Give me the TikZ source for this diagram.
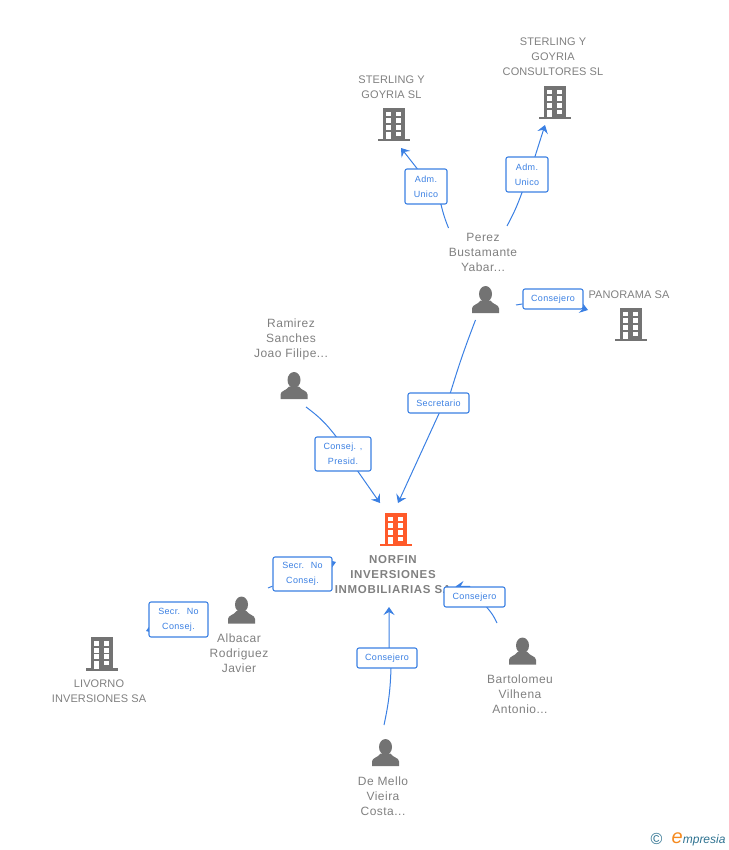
\documentclass[tikz,border=0pt]{standalone}
\usepackage{fontspec}
\setmainfont{Liberation Sans}
\newfontfamily\capsfont[LetterSpace=1]{Liberation Sans}
\newfontfamily\persfont[LetterSpace=4]{Liberation Sans}
\newfontfamily\rolefont[LetterSpace=4]{Liberation Sans}
\newfontfamily\headfont[LetterSpace=6]{Liberation Sans}
\usetikzlibrary{arrows.meta,backgrounds}

\definecolor{linkblue}{HTML}{3B80E3}
\definecolor{namegray}{HTML}{808080}
\definecolor{icongray}{HTML}{737373}
\definecolor{headorange}{HTML}{FF5A2A}
\definecolor{logoteal}{HTML}{2F7391}
\definecolor{logoorange}{HTML}{F58A1F}

\tikzset{
  compname/.style={text=namegray, align=center, inner sep=0pt,
    font=\capsfont\fontsize{11}{15}\selectfont},
  persname/.style={compname, font=\persfont\fontsize{12}{15}\selectfont},
  boldname/.style={compname, font=\headfont\fontsize{11.5}{15}\selectfont\bfseries},
  iconbox/.style={inner sep=0pt, minimum size=10pt},
  role/.style={draw=linkblue, line width=1.1pt, fill=white, rounded corners=2pt,
    text=linkblue, align=center, inner sep=0pt,
    font=\rolefont\fontsize{9}{15}\selectfont},
  link/.style={draw=linkblue, line width=1pt},
  linkto/.style={link, -{Stealth[length=8pt,width=11pt,inset=3pt]}},
  building/.pic={
    \fill[#1] (-11,-16.5) rectangle (11,15.5);
    \fill[#1] (-16,14.5) rectangle (16,17);
    \foreach \wy/\wh in {-12.5/-8,-6/-1,0.5/5.5} {
      \fill[white] (-8,\wy) rectangle (-3,\wh);
      \fill[white] (2,\wy) rectangle (7,\wh);
    }
    \fill[white] (-8,7.5) rectangle (-3,15);
    \fill[white] (2,7.5) rectangle (7,11.5);
  },
  person/.pic={
    \fill[icongray] (0,-5.5) ellipse (6.5 and 8);
    \fill[icongray] (-13.5,13.5) -- (-13.5,9) .. controls (-13.5,5) and (-7,5) .. (-5,1)
      -- (5,1) .. controls (7,5) and (13.5,5) .. (13.5,9) -- (13.5,13.5) -- cycle;
  },
}

\begin{document}
\begin{tikzpicture}[x=1pt,y=-1pt]
  \useasboundingbox (0,0) rectangle (728,850);

  % Companies
  \node[iconbox] (sterlingsl) at (394,124.5) {};
  \node[iconbox] (sterlingcons) at (555,102.5) {};
  \node[iconbox] (panorama) at (631,324) {};
  \node[iconbox] (norfin) at (395.5,529) {};
  \node[iconbox] (livorno) at (102,653.5) {};
  \foreach \comp in {sterlingsl,sterlingcons,panorama,livorno}
    \pic at (\comp) {building=icongray};
  \pic at (norfin) {building=headorange};

  % People
  \node[iconbox] (perez) at (485.5,299.5) {};
  \node[iconbox] (ramirez) at (294,385.5) {};
  \node[iconbox] (albacar) at (241.5,610) {};
  \node[iconbox] (demello) at (385.5,752.5) {};
  \node[iconbox] (bartolomeu) at (522.5,651) {};
  \foreach \pers in {perez,ramirez,albacar,demello,bartolomeu}
    \pic at (\pers) {person};

  % Names
  \node[compname] (sterlingslname) at (391.5,87) {STERLING Y\\GOYRIA SL};
  \node[compname] (sterlingconsname) at (553,56.5) {STERLING Y\\GOYRIA\\CONSULTORES SL};
  \node[compname] (panoramaname) at (629,294.5) {PANORAMA SA};
  \node[persname] (perezname) at (483,252) {Perez\\Bustamante\\Yabar...};
  \node[persname] (ramirezname) at (291,339) {Ramirez\\Sanches\\Joao Filipe...};
  \node[boldname] (norfinname) at (393,574.5) {NORFIN\\INVERSIONES\\INMOBILIARIAS SA};
  \node[persname] (albacarname) at (239,653) {Albacar\\Rodriguez\\Javier};
  \node[compname] (livornoname) at (99,691) {LIVORNO\\INVERSIONES SA};
  \node[persname] (demelloname) at (383,796) {De Mello\\Vieira\\Costa...};
  \node[persname] (bartolomeuname) at (520,694) {Bartolomeu\\Vilhena\\Antonio...};

  % Role boxes
  \node[role, minimum width=42pt, minimum height=35pt] (admsl) at (426,186.5) {Adm.\\Unico};
  \node[role, minimum width=42pt, minimum height=35pt] (admcons) at (527,174.5) {Adm.\\Unico};
  \node[role, minimum width=60pt, minimum height=20pt] (consejeropan) at (553,299) {Consejero};
  \node[role, minimum width=61pt, minimum height=20pt] (secretario) at (438.5,403) {Secretario};
  \node[role, minimum width=56pt, minimum height=34pt] (presid) at (343,454) {Consej. ,\\Presid.};
  \node[role, minimum width=59pt, minimum height=34pt] (secrnorfin) at (302.5,574) {Secr. \ No\\Consej.};
  \node[role, minimum width=59pt, minimum height=35pt] (secrlivorno) at (178.5,619.5) {Secr. \ No\\Consej.};
  \node[role, minimum width=60pt, minimum height=20pt] (consejeromello) at (387,658) {Consejero};
  \node[role, minimum width=61pt, minimum height=20pt] (consejerobart) at (474.5,597) {Consejero};

  % Connectors
  \begin{scope}[on background layer]
    \draw[linkto] ([shift={(-37,-71.5)}]perez.center) to[bend left=4] ([xshift=15pt]admsl.south) -- ([xshift=-9pt]admsl.north) -- ([shift={(7,23.5)}]sterlingsl.center);
    \draw[linkto] ([shift={(21.5,-73.5)}]perez.center) to[bend right=4] ([xshift=-5pt]admcons.south) -- ([xshift=8pt]admcons.north) -- ([shift={(-10,22.5)}]sterlingcons.center);
    \draw[linkto] ([shift={(30.5,5.5)}]perez.center) -- (consejeropan) -- ([shift={(-43,-14)}]panorama.center);
    \draw[linkto] ([shift={(-10,20.5)}]perez.center) to[bend right=2] ([xshift=12pt]secretario.north) -- ([xshift=0.5pt]secretario.south) -- ([shift={(2.5,-26)}]norfin.center);
    \draw[linkto] ([shift={(12,21.5)}]ramirez.center) to[bend left=8] ([xshift=-7pt]presid.north) -- ([xshift=15pt]presid.south) -- ([shift={(-15.5,-26)}]norfin.center);
    \draw[linkto] ([shift={(26.5,-22)}]albacar.center) -- (secrnorfin) -- ([shift={(-59.5,33)}]norfin.center);
    \draw[linkto] ([shift={(-33,0)}]albacar.center) -- (secrlivorno) -- ([shift={(44,-22.5)}]livorno.center);
    \draw[linkto] ([shift={(-1.5,-27.5)}]demello.center) to[bend right=5] ([xshift=4pt]consejeromello.south) -- ([xshift=2pt]consejeromello.north) -- ([shift={(-6.5,78)}]norfin.center);
    \draw[linkto] ([shift={(-25.5,-28)}]bartolomeu.center) to[bend right=8] ([xshift=12.5pt]consejerobart.south) -- ([xshift=-5pt]consejerobart.north) -- ([shift={(60,57.5)}]norfin.center);
  \end{scope}

  % Logo
  \node[inner sep=0pt, text=logoteal, font=\fontsize{16}{16}\selectfont] (logosign) at (656.5,838.5) {©};
  \node[inner sep=0pt, anchor=base west, text=logoteal, font=\fontsize{12}{12}\selectfont\itshape] (logotext) at (671.5,843.5)
    {{\fontsize{20}{20}\selectfont\color{logoorange}e}mpresia};
\end{tikzpicture}
\end{document}
